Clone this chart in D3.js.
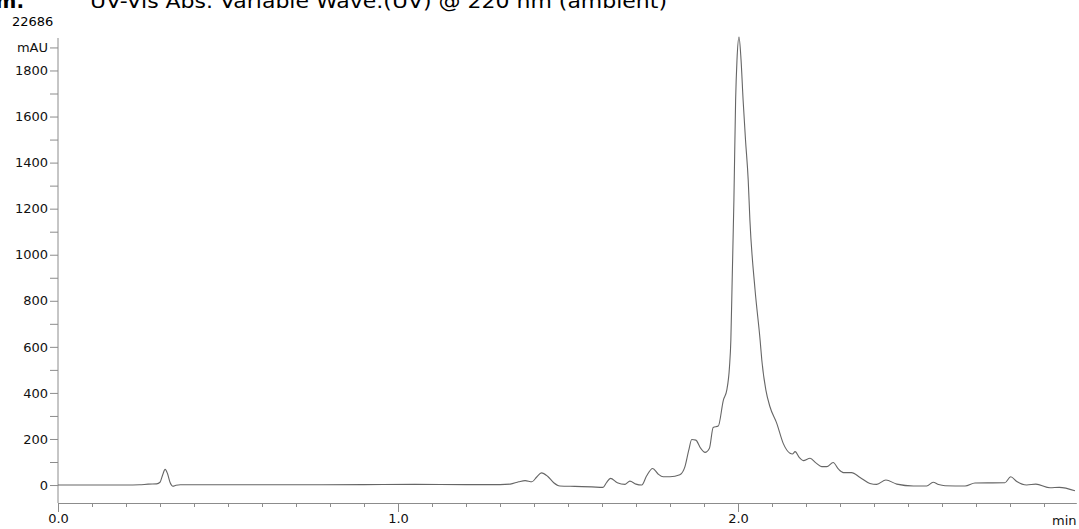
<!DOCTYPE html>
<html>
<head>
<meta charset="utf-8">
<script src="https://cdn.jsdelivr.net/npm/d3@7"></script>
<style>
  body { margin: 0; background: #fff; }
  svg { display: block; font-family: "DejaVu Sans", Verdana, sans-serif; }
</style>
</head>
<body>
<svg width="1079" height="529"></svg>
<script>
// retention time (min) and absorbance (mAU)
const times = [
  0.000, 0.100, 0.200, 0.240, 0.265, 0.290, 0.300, 0.308, 0.315, 0.322,
  0.330, 0.338, 0.347, 0.360, 0.500, 0.700, 0.900, 1.050, 1.200, 1.300,
  1.330, 1.355, 1.374, 1.394, 1.408, 1.422, 1.440, 1.458, 1.476, 1.520,
  1.570, 1.603, 1.613, 1.625, 1.645, 1.668, 1.682, 1.700, 1.717, 1.731,
  1.749, 1.765, 1.780, 1.800, 1.829, 1.844, 1.855, 1.864, 1.876, 1.890,
  1.903, 1.916, 1.927, 1.942, 1.957, 1.967, 1.975, 1.979, 1.983, 1.988,
  1.993, 1.997, 2.003, 2.009, 2.015, 2.022, 2.030, 2.035, 2.050, 2.065,
  2.070, 2.082, 2.094, 2.114, 2.133, 2.153, 2.160, 2.168, 2.180, 2.192,
  2.212, 2.230, 2.246, 2.261, 2.280, 2.295, 2.310, 2.334, 2.359, 2.388,
  2.408, 2.435, 2.467, 2.516, 2.555, 2.574, 2.590, 2.609, 2.668, 2.697,
  2.785, 2.802, 2.820, 2.849, 2.876, 2.918, 2.945, 2.991
];
const mAU = [
  0, 0, 0, 1, 4, 5, 12, 45, 68, 50,
  10, -5, -1, 1, 1, 1, 2, 3, 2, 2,
  4, 14, 19, 14, 35, 53, 38, 10, -4, -6,
  -8, -10, 10, 29, 10, 3, 17, 4, 0, 39,
  72, 48, 36, 36, 45, 80, 150, 198, 195, 160,
  142, 160, 250, 256, 369, 412, 514, 630, 900, 1240,
  1672, 1845, 1945, 1845, 1672, 1500, 1325, 1151, 850, 630,
  543, 412, 340, 268, 181, 138, 135, 145, 120, 106,
  116, 95, 80, 80, 98, 70, 54, 54, 33, 7,
  3, 22, 4, -4, -4, 12, 2, -3, -4, 9,
  10, 36, 15, 0, 4, -12, -10, -25
];

const yTicks = d3.range(0, 2000, 100);
const xTicks = d3.range(0, 30).map(i => i / 10);
const xLabels = [0, 1, 2];

const TITLE = "UV-Vis Abs. Variable Wave.(UV) @ 220 nm (ambient)";
const INJECTION = "22686";

const FONT = "DejaVu Sans, Verdana, sans-serif";
const AXIS_COLOR = "#8c8c8c";

const svg = d3.select("svg");

const x = d3.scaleLinear().domain([0, 2.995]).range([58, 1076.3]);
const y = d3.scaleLinear().domain([-78, 1941]).range([503, 38]);

// header, clipped at the top of the window
svg.append("text")
  .attr("x", 24).attr("y", 8)
  .attr("text-anchor", "end")
  .attr("font-weight", "bold")
  .attr("font-size", 20)
  .text("m.");
svg.append("text")
  .attr("x", 90).attr("y", 8)
  .attr("font-size", 20)
  .attr("textLength", 577)
  .attr("lengthAdjust", "spacingAndGlyphs")
  .text(TITLE);
svg.append("text")
  .attr("x", 12).attr("y", 26)
  .attr("font-size", 13)
  .text(INJECTION);

function styleAxis(g) {
  g.attr("font-size", 13).attr("font-family", FONT);
  g.selectAll("path, line").attr("stroke", AXIS_COLOR);
  g.selectAll("text").attr("fill", "#111");
}

// y axis
const yAxis = d3.axisLeft(y)
  .tickValues(yTicks)
  .tickSize(8)
  .tickPadding(2)
  .tickSizeOuter(0)
  .tickFormat(d => d === 1900 ? "mAU" : (d % 200 === 0 ? d : ""));

svg.append("g")
  .attr("transform", `translate(${x(0)},0)`)
  .call(yAxis)
  .call(g => g.select(".domain").attr("d", `M0,${y.range()[1]}V${y.range()[0]}`))
  .call(styleAxis);

// x axis
const xAxis = d3.axisBottom(x)
  .tickValues(xTicks)
  .tickSize(4)
  .tickPadding(6)
  .tickSizeOuter(0)
  .tickFormat(d => xLabels.includes(d) ? d.toFixed(1) : "");

svg.append("g")
  .attr("transform", `translate(0,${y(-78)})`)
  .call(xAxis)
  .call(g => g.selectAll(".tick")
    .filter(d => xLabels.includes(d))
    .select("line").attr("y2", 9))
  .call(g => g.selectAll(".tick text").attr("y", 11))
  .call(styleAxis);

svg.append("text")
  .attr("x", 1076.5).attr("y", 525)
  .attr("text-anchor", "end")
  .attr("font-size", 13)
  .attr("fill", "#111")
  .text("min");

// trace
const line = d3.line()
  .x((d, i) => x(times[i]))
  .y(d => y(d))
  .curve(d3.curveMonotoneX);

svg.append("path")
  .datum(mAU)
  .attr("fill", "none")
  .attr("stroke", "#666")
  .attr("stroke-width", 1.1)
  .attr("d", line);
</script>
</body>
</html>
